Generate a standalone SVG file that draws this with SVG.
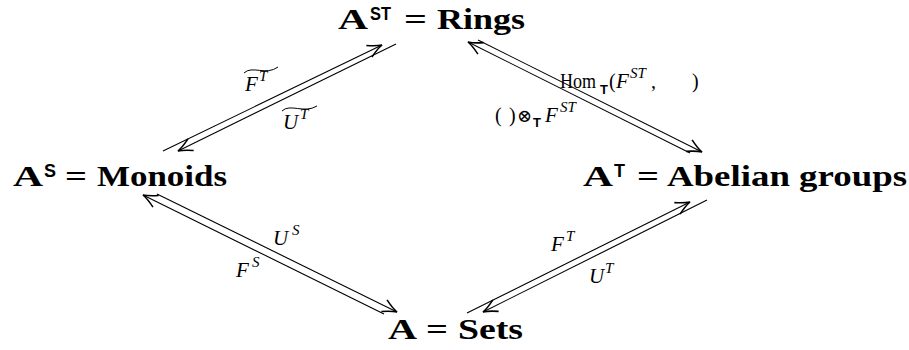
<svg xmlns="http://www.w3.org/2000/svg" width="909" height="350" viewBox="0 0 909 350">
<style>
.n{font-family:"Liberation Serif",serif;font-weight:bold;font-size:30px;fill:#000}
.ns{font-family:"Liberation Sans",sans-serif;font-weight:bold;font-size:18px;fill:#000}
.li{font-family:"Liberation Serif",serif;font-style:italic;font-size:21px;fill:#000}
.lr{font-family:"Liberation Serif",serif;font-size:20px;fill:#000}
.lsup{font-family:"Liberation Serif",serif;font-style:italic;font-size:15px;fill:#000}
.lsub{font-family:"Liberation Sans",sans-serif;font-weight:bold;font-size:13px;fill:#000}
.ar{stroke:#000;stroke-width:1.1;fill:none;marker-end:url(#ah)}
.tl{stroke:#000;stroke-width:1;fill:none}
</style>
<defs>
<marker id="ah" markerUnits="userSpaceOnUse" markerWidth="20" markerHeight="20" viewBox="-12 -6 14 12" refX="0" refY="0" orient="auto" overflow="visible">
<path d="M-10,-4.5 Q-4,-1 0,0 Q-4,1 -10,4.5" fill="none" stroke="#000" stroke-width="1.1"/>
</marker>
</defs>
<g id="connectors">
<line class="ar" x1="163" y1="151" x2="382" y2="45"/>
<line class="ar" x1="396" y1="44" x2="178" y2="151"/>
<line class="ar" x1="478" y1="40" x2="702" y2="152"/>
<line class="ar" x1="690" y1="153" x2="468" y2="42"/>
<line class="ar" x1="157" y1="194" x2="397" y2="312"/>
<line class="ar" x1="384" y1="314" x2="143" y2="195"/>
<line class="ar" x1="467" y1="313" x2="690" y2="202"/>
<line class="ar" x1="707" y1="200" x2="483" y2="312"/>
</g>
<g id="labels">
<g id="lbl-FT-tilde">
<text class="li" x="245" y="91">F</text><text class="lsup" x="259" y="81">T</text>
<path class="tl" d="M244,73 C252,65 266,76 278,67"/>
</g>
<g id="lbl-UT-tilde">
<text class="li" x="283" y="129">U</text><text class="lsup" x="300" y="119">T</text>
<path class="tl" d="M282,111 C290,103 304,114 317,106"/>
</g>
<g id="lbl-hom">
<text class="lr" x="560" y="88" textLength="36" lengthAdjust="spacingAndGlyphs">Hom</text><text class="lsub" x="600" y="94">T</text><text class="lr" x="609" y="88">(</text><text class="li" x="616" y="88">F</text><text class="lsup" x="630" y="78">ST</text><text class="lr" x="651" y="88">,</text><text class="lr" x="692" y="88">)</text>
</g>
<g id="lbl-tensor">
<text class="lr" x="495" y="122">(</text><text class="lr" x="509" y="122">)</text><text x="517" y="122" style="font-family:'DejaVu Serif',serif;font-size:18px">⊗</text><text class="lsub" x="533" y="127">T</text><text class="li" x="545" y="122">F</text><text class="lsup" x="560" y="112">ST</text>
</g>
<g id="lbl-US">
<text class="li" x="273" y="245">U</text><text class="lsup" x="292" y="235">S</text>
</g>
<g id="lbl-FS">
<text class="li" x="236" y="277">F</text><text class="lsup" x="252" y="267">S</text>
</g>
<g id="lbl-FT">
<text class="li" x="551" y="251">F</text><text class="lsup" x="566" y="241">T</text>
</g>
<g id="lbl-UT">
<text class="li" x="589" y="283">U</text><text class="lsup" x="605" y="273">T</text>
</g>
</g>
<g id="node-rings">
<text class="n" x="338" y="29" textLength="30" lengthAdjust="spacingAndGlyphs">A</text>
<text class="ns" x="370" y="20" textLength="21" lengthAdjust="spacingAndGlyphs">ST</text>
<text class="n" x="404" y="29" textLength="23" lengthAdjust="spacingAndGlyphs">=</text>
<text class="n" x="437" y="29" textLength="88" lengthAdjust="spacingAndGlyphs">Rings</text>
</g>
<g id="node-monoids">
<text class="n" x="13" y="186" textLength="30" lengthAdjust="spacingAndGlyphs">A</text>
<text class="ns" x="44" y="177">S</text>
<text class="n" x="65" y="186" textLength="22" lengthAdjust="spacingAndGlyphs">=</text>
<text class="n" x="97" y="186" textLength="130" lengthAdjust="spacingAndGlyphs">Monoids</text>
</g>
<g id="node-abelian">
<text class="n" x="583" y="186" textLength="30" lengthAdjust="spacingAndGlyphs">A</text>
<text class="ns" x="614" y="177">T</text>
<text class="n" x="637" y="186" textLength="22" lengthAdjust="spacingAndGlyphs">=</text>
<text class="n" x="667" y="186" textLength="240" lengthAdjust="spacingAndGlyphs">Abelian groups</text>
</g>
<g id="node-sets">
<text class="n" x="388" y="339" textLength="29" lengthAdjust="spacingAndGlyphs">A</text>
<text class="n" x="426" y="339" textLength="22" lengthAdjust="spacingAndGlyphs">=</text>
<text class="n" x="458" y="339" textLength="65" lengthAdjust="spacingAndGlyphs">Sets</text>
</g>
</svg>
